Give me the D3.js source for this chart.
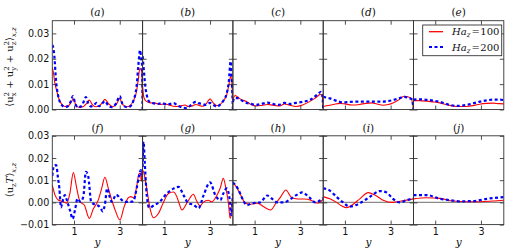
<!DOCTYPE html>
<html><head><meta charset="utf-8">
<script src="https://cdn.jsdelivr.net/npm/d3@7/dist/d3.min.js"></script>
<style>body{margin:0;background:#fff}svg{display:block}</style>
</head><body><svg id="c" width="512" height="250"></svg>
<script>
// ---------- data ----------
const topLabels = ["(a)","(b)","(c)","(d)","(e)"];
const botLabels = ["(f)","(g)","(h)","(i)","(j)"];
const seriesNames = ["Ha_z=100","Ha_z=200"];
const xTicks = [1,3];
const yTicksTop = [0,0.01,0.02,0.03];
const yTicksBot = [-0.01,0,0.01,0.02,0.03];

const aRed = [[0.05,0.0165],[0.1,0.0145],[0.16,0.0105],[0.24,0.0075],[0.33,0.0045],[0.45,0.0022],[0.6,0.0012],[0.75,0.0014],[0.87,0.0028],[0.97,0.0042],[1.07,0.002],[1.2,0.0009],[1.4,0.0011],[1.55,0.0024],[1.67,0.0037],[1.8,0.0019],[1.95,0.0011],[2.1,0.0014],[2.25,0.0028],[2.35,0.004],[2.5,0.0024],[2.7,0.0011],[2.85,0.002],[3.0,0.0043],[3.12,0.002],[3.3,0.0011],[3.45,0.0015],[3.6,0.0035],[3.72,0.0065],[3.81,0.0116],[3.88,0.0162],[3.96,0.015],[4.0,0]];
const aBlue = [[0.05,0.0254],[0.1,0.024],[0.14,0.021],[0.21,0.0118],[0.31,0.0052],[0.46,0.0018],[0.6,0.001],[0.75,0.0014],[0.87,0.0035],[0.95,0.0053],[1.05,0.0025],[1.15,0.0009],[1.3,0.0012],[1.42,0.003],[1.52,0.0049],[1.62,0.0025],[1.75,0.0012],[1.85,0.0016],[1.99,0.0026],[2.1,0.0013],[2.25,0.0025],[2.35,0.0033],[2.5,0.0015],[2.65,0.0009],[2.85,0.0025],[3.0,0.0053],[3.12,0.0022],[3.3,0.0009],[3.45,0.0012],[3.59,0.0033],[3.74,0.0094],[3.81,0.017],[3.89,0.0234],[3.94,0.02],[3.98,0.017],[4.0,0]];
const bRed = [[0.05,0.009],[0.1,0.005],[0.2,0.0033],[0.4,0.0026],[0.6,0.0025],[0.8,0.002],[1.0,0.0022],[1.2,0.0018],[1.4,0.0013],[1.55,0.0012],[1.7,0.0014],[1.9,0.0018],[2.05,0.0012],[2.2,0.0013],[2.38,0.002],[2.55,0.0015],[2.7,0.0013],[2.85,0.0025],[3.0,0.0042],[3.15,0.0025],[3.3,0.0015],[3.45,0.002],[3.6,0.0037],[3.72,0.0055],[3.82,0.0095],[3.9,0.013],[3.96,0.01],[4.0,0]];
const bBlue = [[0.05,0.021],[0.1,0.016],[0.17,0.009],[0.25,0.005],[0.35,0.003],[0.5,0.0025],[0.7,0.0022],[0.9,0.0025],[1.1,0.002],[1.25,0.0022],[1.4,0.0025],[1.6,0.0015],[1.8,0.0008],[1.95,0.0006],[2.1,0.0012],[2.25,0.0025],[2.38,0.003],[2.5,0.0025],[2.65,0.0022],[2.8,0.0018],[3.0,0.0026],[3.15,0.0018],[3.3,0.0011],[3.45,0.002],[3.6,0.0037],[3.72,0.006],[3.82,0.011],[3.9,0.019],[3.95,0.012],[4.0,0]];
const cRed = [[0.05,0.004],[0.15,0.0055],[0.25,0.005],[0.4,0.004],[0.65,0.0031],[0.85,0.002],[1.07,0.0014],[1.3,0.0016],[1.57,0.002],[1.8,0.0017],[2.1,0.0014],[2.3,0.0022],[2.5,0.0018],[2.8,0.0012],[3.1,0.0018],[3.4,0.0031],[3.6,0.0042],[3.75,0.0052],[3.88,0.006],[3.96,0.005],[4.0,0]];
const cBlue = [[0.05,0.003],[0.12,0.0045],[0.25,0.0045],[0.45,0.0035],[0.65,0.0026],[0.85,0.0022],[1.07,0.0018],[1.3,0.0022],[1.57,0.0027],[1.8,0.0022],[2.05,0.0018],[2.3,0.0026],[2.55,0.0022],[2.8,0.0026],[3.1,0.003],[3.4,0.0037],[3.6,0.0048],[3.78,0.0062],[3.9,0.007],[3.96,0.006],[4.0,0]];
const dRed = [[0.05,0.0012],[0.2,0.0015],[0.5,0.002],[0.78,0.0024],[1.0,0.0022],[1.3,0.0018],[1.65,0.002],[1.9,0.0024],[2.17,0.0026],[2.4,0.0022],[2.66,0.0017],[2.9,0.002],[3.1,0.0026],[3.35,0.0038],[3.6,0.0052],[3.75,0.005],[3.9,0.0044],[4.0,0]];
const dBlue = [[0.05,0.005],[0.2,0.0047],[0.34,0.0044],[0.6,0.0035],[0.93,0.0028],[1.2,0.003],[1.65,0.0031],[2.17,0.0031],[2.66,0.0031],[3.1,0.0037],[3.4,0.0045],[3.6,0.005],[3.8,0.0045],[3.93,0.004],[4.0,0]];
const eRed = [[0.05,0.0035],[0.3,0.0035],[0.63,0.0033],[0.9,0.003],[1.2,0.0026],[1.55,0.0018],[1.94,0.0012],[2.37,0.0012],[2.7,0.0016],[2.95,0.0021],[3.25,0.0024],[3.53,0.0025],[3.8,0.0023],[4.0,0.0022]];
const eBlue = [[0.05,0.0039],[0.3,0.004],[0.63,0.0038],[0.9,0.0035],[1.2,0.003],[1.55,0.002],[1.94,0.0014],[2.37,0.0018],[2.7,0.0025],[2.95,0.0031],[3.25,0.0036],[3.53,0.0039],[3.8,0.0039],[4.0,0.0037]];
const fRed = [[0.05,0.0078],[0.17,0.0033],[0.31,0.0011],[0.53,0.0003],[0.68,-0.0004],[0.82,0.0041],[0.97,0.0134],[1.12,0.0063],[1.26,0.0003],[1.45,-0.0012],[1.67,-0.0072],[1.84,-0.003],[2.06,0.001],[2.21,0.0063],[2.35,0.0113],[2.5,0.0063],[2.65,0.0011],[2.8,-0.0035],[3.01,-0.0079],[3.19,-0.002],[3.37,0.002],[3.48,0.0026],[3.62,0.002],[3.74,0.0071],[3.84,0.0128],[3.9,0.0132],[3.95,0.0095],[4.0,0.0145]];
const fBlue = [[0.05,0.012],[0.12,0.0165],[0.22,0.0168],[0.3,0.011],[0.36,0.0063],[0.43,-0.0022],[0.5,0.0005],[0.6,0.0033],[0.68,0.0012],[0.82,-0.0035],[0.94,-0.0074],[1.05,-0.003],[1.15,0.0016],[1.29,0.0003],[1.41,0.0028],[1.52,0.0138],[1.62,0.0118],[1.75,0.0003],[1.92,-0.001],[2.06,-0.0015],[2.17,-0.0026],[2.25,-0.004],[2.35,-0.001],[2.45,0.0063],[2.55,0.0028],[2.65,0.0003],[2.85,0.0035],[3.0,0.002],[3.2,0.0003],[3.4,0.0002],[3.59,0.0005],[3.74,0.0063],[3.84,0.0118],[3.92,0.0146],[3.97,0.012],[4.0,0.015]];
const gRed = [[0.05,0.0145],[0.1,0.0135],[0.23,0.0063],[0.39,-0.0034],[0.52,-0.0069],[0.74,-0.005],[0.96,0.0],[1.18,0.004],[1.4,0.0047],[1.55,0.0025],[1.65,-0.0005],[1.77,-0.0034],[1.98,-0.0004],[2.12,0.002],[2.27,0.0037],[2.42,0.0005],[2.56,-0.0016],[2.7,0.0],[2.92,0.001],[3.07,0.0003],[3.29,0.003],[3.45,0.0066],[3.58,0.0108],[3.7,0.006],[3.8,0.0],[3.88,-0.0072],[3.95,-0.003],[4.0,0.004]];
const gBlue = [[0.05,0.016],[0.09,0.0273],[0.15,0.0168],[0.23,0.0033],[0.34,-0.0024],[0.52,-0.0015],[0.82,0.0005],[1.11,0.004],[1.4,0.0062],[1.62,0.007],[1.84,0.0033],[2.05,-0.0004],[2.27,-0.001],[2.5,-0.0026],[2.72,0.0033],[3.0,0.009],[3.23,0.0033],[3.45,0.001],[3.58,0.004],[3.73,0.0063],[3.85,0.002],[3.92,-0.0057],[4.0,0.004]];
const hRed = [[0.05,0.009],[0.2,0.007],[0.39,0.0033],[0.61,-0.0004],[0.82,-0.0008],[1.12,-0.0004],[1.4,-0.002],[1.7,-0.0034],[1.93,-0.0004],[2.14,0.0025],[2.37,0.0056],[2.59,0.0025],[2.88,0.0015],[3.17,0.0015],[3.46,0.001],[3.75,-0.0004],[4.0,0.0015]];
const hBlue = [[0.05,0.009],[0.3,0.0056],[0.45,0.002],[0.67,-0.0012],[0.88,-0.0004],[1.25,0.0],[1.55,0.0031],[1.77,0.0016],[1.99,0.0],[2.28,0.0],[2.57,0.0015],[2.86,0.0035],[3.08,0.0045],[3.37,0.0025],[3.66,0.0],[3.88,0.001],[4.0,0.002]];
const iRed = [[0.05,0.0026],[0.34,0.0016],[0.63,0.0],[0.85,-0.0015],[1.07,-0.0024],[1.36,-0.0008],[1.65,0.0016],[2.02,0.0044],[2.31,0.0033],[2.67,0.001],[3.1,0.0],[3.47,0.0006],[4.0,0.0016]];
const iBlue = [[0.05,0.0063],[0.34,0.0053],[0.63,0.0025],[0.92,0.0],[1.2,-0.0019],[1.65,-0.0004],[2.09,0.0025],[2.53,0.0051],[2.82,0.0045],[3.1,0.0016],[3.4,0.0],[3.69,0.001],[4.0,0.0018]];
const jRed = [[0.05,0.0016],[0.63,0.0021],[1.21,0.0018],[1.8,0.0006],[2.38,0.0003],[2.96,0.0003],[3.5,0.0006],[4.0,0.001]];
const jBlue = [[0.05,0.0033],[0.63,0.0033],[1.21,0.0016],[1.65,0.001],[2.09,0.0005],[2.67,0.0006],[3.25,0.0016],[4.0,0.0024]];

const topRed = [aRed,bRed,cRed,dRed,eRed], topBlue = [aBlue,bBlue,cBlue,dBlue,eBlue];
const botRed = [fRed,gRed,hRed,iRed,jRed], botBlue = [fBlue,gBlue,hBlue,iBlue,jBlue];

// ---------- layout ----------
const svg = d3.select("#c");
const L0 = 52.3, PW = 90.3;
const rows = [
  {y: d3.scaleLinear().domain([0,0.035]).range([109.5,20.7]), ticks: yTicksTop, red: topRed, blue: topBlue, labels: topLabels, labY: 15.5, showX: false, zero:false},
  {y: d3.scaleLinear().domain([-0.01,0.03]).range([224.6,135.8]), ticks: yTicksBot, red: botRed, blue: botBlue, labels: botLabels, labY: 132, showX: true, zero:true}
];
const tickFont = "DejaVu Sans, sans-serif";
const serif = "DejaVu Serif, serif";
const RED = "#ff0000", BLUE = "#0000ff";

const defs = svg.append("defs");
rows.forEach((row, ri) => {
  const [yb, yt] = row.y.range();
  for (let p = 0; p < 5; p++) {
    const L = L0 + p*PW, R = L + PW;
    const x = d3.scaleLinear().domain([0.05,4.0]).range([L,R]);
    const cid = `clip${ri}${p}`;
    defs.append("clipPath").attr("id", cid).append("rect").attr("x",L).attr("y",yt).attr("width",PW).attr("height",yb-yt);
    const g = svg.append("g");
    if (row.zero) {
      g.append("line").attr("x1",L).attr("x2",R).attr("y1",row.y(0)).attr("y2",row.y(0))
        .attr("stroke","#8a8a8a").attr("stroke-width",1.3);
    }
    const line = d3.line().x(d=>x(d[0])).y(d=>row.y(d[1])).curve(d3.curveMonotoneX);
    const pg = g.append("g").attr("clip-path",`url(#${cid})`);
    pg.append("path").attr("d", line(row.red[p])).attr("fill","none").attr("stroke",RED).attr("stroke-width",1.1);
    pg.append("path").attr("d", line(row.blue[p])).attr("fill","none").attr("stroke",BLUE).attr("stroke-width",2.2).attr("stroke-dasharray","3,2.5");

    // axes (inward ticks)
    const left = d3.axisLeft(row.y).tickValues(row.ticks).tickSizeInner(-4).tickSizeOuter(0).tickPadding(3)
      .tickFormat(p===0 ? d3.format(".2f") : "");
    const right = d3.axisRight(row.y).tickValues(row.ticks).tickSizeInner(-4).tickSizeOuter(0).tickFormat("");
    const bottom = d3.axisBottom(x).tickValues(xTicks).tickSizeInner(-4).tickSizeOuter(0).tickPadding(4)
      .tickFormat(row.showX ? d3.format("d") : "");
    const topA = d3.axisTop(x).tickValues(xTicks).tickSizeInner(-4).tickSizeOuter(0).tickFormat("");
    [[left,`translate(${L},0)`],[right,`translate(${R},0)`],[bottom,`translate(0,${yb})`],[topA,`translate(0,${yt})`]].forEach(([ax,tr])=>{
      const a = g.append("g").attr("transform",tr).call(ax);
      a.select(".domain").remove();
      a.selectAll("line").attr("stroke","#222").attr("stroke-width",0.8);
      a.selectAll("text").attr("font-family",tickFont).attr("font-size",9.6).attr("fill","#111");
    });
    // frame
    g.append("rect").attr("x",L).attr("y",yt).attr("width",PW).attr("height",yb-yt)
      .attr("fill","none").attr("stroke","#333").attr("stroke-width",0.9);
    // panel label
    const lab = svg.append("text").attr("x",(L+R)/2).attr("y",row.labY).attr("text-anchor","middle")
      .attr("font-family",serif).attr("font-size",10.5).attr("fill","#111");
    const m = row.labels[p].match(/\((.)\)/);
    lab.append("tspan").text("(");
    lab.append("tspan").attr("font-style","italic").text(m[1]);
    lab.append("tspan").text(")");
    if (row.showX) {
      svg.append("text").attr("x",(L+R)/2).attr("y",246).attr("text-anchor","middle")
        .attr("font-family",serif).attr("font-style","italic").attr("font-size",10.5).attr("fill","#111").text("y");
    }
  }
});

// y labels: parts = [text, dy, size, style, dx]
function ylabel(cx, cy, parts) {
  const t = svg.append("text").attr("transform",`translate(${cx},${cy}) rotate(-90)`)
    .attr("text-anchor","middle").attr("font-family",serif).attr("font-size",10).attr("fill","#111");
  parts.forEach(([s, dy, size, style, dx]) => {
    const ts = t.append("tspan").text(s);
    if (dy) ts.attr("dy", dy);
    if (dx) ts.attr("dx", dx);
    if (size) ts.attr("font-size", size);
    if (style) ts.attr("font-style", style);
  });
}
ylabel(13, 67, [["⟨u"],["x",2.5,7],["2",-6.5,7,null,-4],[" + u",4],["y",2.5,7],["2",-6.5,7,null,-4],[" + u",4],["z",2.5,7],["2",-6.5,7,null,-4],["⟩",4],["x,z",3,7,"italic"]]);
ylabel(13, 180, [["⟨u"],["z",2.5,7],["T",-2.5,null,"italic"],["⟩"],["x,z",3,7,"italic"]]);

// legend
const lg = svg.append("g");
lg.append("rect").attr("x",422.7).attr("y",25).attr("width",79).attr("height",30.7).attr("fill","#fff").attr("stroke","#333").attr("stroke-width",0.9);
const legY = [31.7, 47];
seriesNames.forEach((name,i)=>{
  lg.append("line").attr("x1",429).attr("x2",443).attr("y1",legY[i]).attr("y2",legY[i])
    .attr("stroke", i===0?RED:BLUE).attr("stroke-width", i===0?1.3:2.2).attr("stroke-dasharray", i===0?null:"3,2.5");
  const [pre, rest] = name.split("_");
  const t = lg.append("text").attr("x",452).attr("y",legY[i]+3.5).attr("font-family",serif).attr("font-size",10).attr("fill","#111");
  t.append("tspan").attr("font-style","italic").text(pre);
  t.append("tspan").attr("font-style","italic").attr("font-size",7).attr("dy",2).text(rest[0]);
  t.append("tspan").attr("dy",-2).attr("dx",1).text("=");
  t.append("tspan").attr("dx",0.5).text(rest.slice(2));
});
</script></body></html>
